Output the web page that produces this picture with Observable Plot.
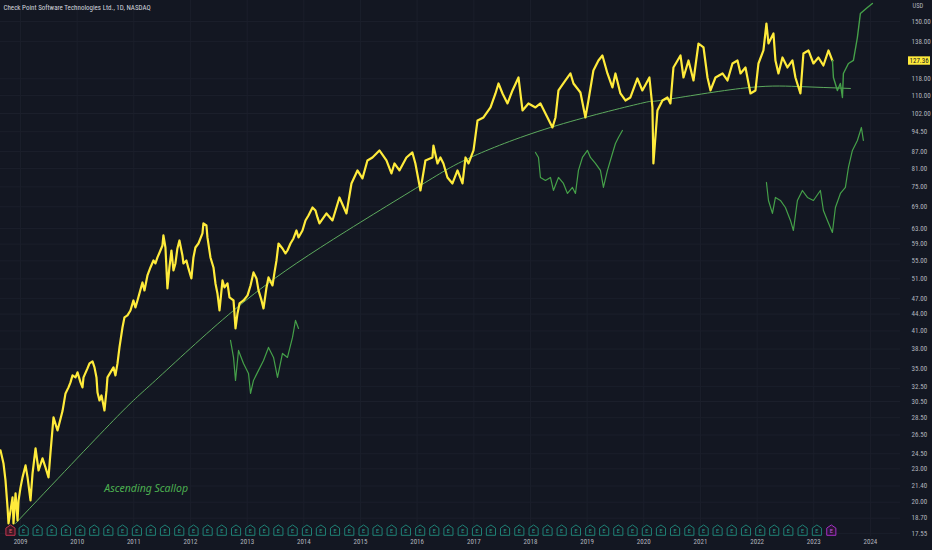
<!DOCTYPE html>
<html><head><meta charset="utf-8">
<script src="https://cdn.jsdelivr.net/npm/d3@7"></script>
<script src="https://cdn.jsdelivr.net/npm/@observablehq/plot@0.6"></script>
<style>
html,body{margin:0;padding:0;background:#131722;}
#chart{width:932px;height:550px;overflow:hidden;}
</style></head><body><div id="chart"></div>
<script>
const title = "Check Point Software Technologies Ltd., 1D, NASDAQ";
const currency = "USD";
const lastPrice = 127.36;
const annotation = "Ascending Scallop";
const annotationYear = 2010.48;
const annotationPrice = 21.2;

// Daily close (yellow): [decimal year, USD]
const priceCloses = [
[2008.647,24.85],[2008.700,23.52],[2008.735,21.91],[2008.771,19.56],[2008.788,18.30],[2008.859,20.40],[2008.876,18.30],[2008.912,20.75],[2008.947,18.53],[2008.965,20.15],
[2009.000,21.28],[2009.035,22.19],[2009.088,23.33],[2009.124,22.19],[2009.176,20.15],[2009.212,22.56],[2009.265,25.05],[2009.318,22.84],[2009.388,24.03],[2009.441,23.13],
[2009.494,22.19],[2009.529,24.64],[2009.582,28.53],[2009.653,27.01],[2009.741,29.30],[2009.794,31.55],[2009.847,32.36],[2009.882,33.04],[2009.918,34.03],[2009.971,33.74],
[2010.006,34.46],[2010.059,33.04],[2010.094,32.36],[2010.112,33.74],[2010.182,35.04],[2010.218,35.78],[2010.271,36.08],[2010.306,35.19],[2010.341,33.74],[2010.359,31.68],
[2010.394,30.63],[2010.429,31.28],[2010.465,30.00],[2010.482,29.38],[2010.518,31.95],[2010.535,33.74],[2010.588,34.46],[2010.641,35.19],[2010.676,34.03],[2010.712,35.78],
[2010.747,38.26],[2010.800,41.60],[2010.835,43.39],[2010.888,43.75],[2010.941,44.67],[2010.994,46.59],[2011.029,45.24],[2011.065,46.59],[2011.100,47.98],[2011.153,50.24],
[2011.188,48.59],[2011.241,51.74],[2011.294,53.50],[2011.347,55.09],[2011.382,54.40],[2011.418,55.79],[2011.470,57.44],[2011.506,58.66],[2011.523,61.18],[2011.559,58.17],
[2011.594,49.00],[2011.629,53.50],[2011.665,57.44],[2011.700,52.83],[2011.735,54.40],[2011.770,57.93],[2011.806,59.91],[2011.859,56.26],[2011.876,54.40],[2011.929,55.09],
[2011.965,53.28],[2012.017,51.09],[2012.053,55.79],[2012.088,58.17],[2012.141,59.15],[2012.212,61.69],[2012.229,64.33],[2012.282,63.79],[2012.300,60.67],[2012.353,55.79],
[2012.406,53.50],[2012.441,50.03],[2012.476,47.98],[2012.512,44.67],[2012.565,50.66],[2012.600,49.20],[2012.653,50.03],[2012.688,47.18],[2012.759,46.59],[2012.794,41.43],
[2012.829,44.12],[2012.865,46.00],[2012.935,46.59],[2013.006,47.58],[2013.059,49.61],[2013.111,52.39],[2013.164,51.09],[2013.200,48.59],[2013.253,46.59],[2013.288,45.05],
[2013.341,49.20],[2013.376,51.31],[2013.447,49.61],[2013.482,52.39],[2013.517,55.09],[2013.553,59.15],[2013.623,57.93],[2013.676,56.73],[2013.711,57.44],[2013.764,59.15],
[2013.817,60.41],[2013.870,62.47],[2013.906,60.67],[2013.976,62.47],[2014.029,65.15],[2014.082,66.53],[2014.153,68.79],[2014.206,67.93],[2014.241,65.97],[2014.276,64.33],
[2014.400,67.09],[2014.506,65.15],[2014.629,71.74],[2014.753,67.09],[2014.841,76.07],[2014.947,80.34],[2015.035,77.69],[2015.123,83.78],[2015.212,84.83],[2015.335,87.36],
[2015.459,83.78],[2015.547,79.33],[2015.600,82.73],[2015.688,80.34],[2015.812,84.83],[2015.917,86.63],[2015.970,82.73],[2016.059,73.87],[2016.147,83.78],[2016.270,84.83],
[2016.288,89.20],[2016.359,82.73],[2016.411,84.83],[2016.464,82.73],[2016.535,78.02],[2016.623,76.07],[2016.712,80.34],[2016.800,76.07],[2016.853,84.83],[2016.906,82.73],
[2016.994,87.36],[2017.065,99.07],[2017.170,100.32],[2017.294,104.61],[2017.382,110.93],[2017.435,115.68],[2017.506,110.93],[2017.594,106.38],[2017.682,112.34],[2017.788,118.62],
[2017.859,103.30],[2017.964,106.38],[2018.088,104.61],[2018.176,106.38],[2018.300,100.32],[2018.388,96.20],[2018.441,100.32],[2018.494,112.34],[2018.617,117.14],[2018.706,120.63],
[2018.759,115.68],[2018.882,111.39],[2018.970,100.32],[2019.023,107.72],[2019.111,122.16],[2019.200,127.39],[2019.270,130.08],[2019.359,120.63],[2019.447,113.76],[2019.500,120.63],
[2019.588,110.93],[2019.676,107.72],[2019.764,109.09],[2019.888,118.13],[2019.976,112.34],[2020.100,118.62],[2020.153,104.61],[2020.170,82.73],[2020.241,103.30],[2020.329,107.72],
[2020.417,109.09],[2020.470,106.38],[2020.523,123.70],[2020.647,130.08],[2020.700,118.62],[2020.788,127.39],[2020.876,117.14],[2020.964,136.79],[2021.053,134.52],[2021.123,118.62],
[2021.176,112.34],[2021.264,118.62],[2021.388,120.63],[2021.476,117.14],[2021.564,125.79],[2021.653,127.39],[2021.706,120.63],[2021.794,123.70],[2021.882,110.93],[2021.970,112.34],
[2022.023,125.79],[2022.111,132.84],[2022.164,148.75],[2022.200,136.79],[2022.288,142.64],[2022.323,127.39],[2022.376,120.63],[2022.447,129.00],[2022.535,123.70],[2022.623,127.39],
[2022.676,118.62],[2022.764,110.93],[2022.817,131.18],[2022.906,132.84],[2022.994,125.79],[2023.082,129.00],[2023.170,124.74],[2023.259,132.84],[2023.329,127.36]
];

// Projected bar pattern after the last close (green)
const projYears = [2023.329,2023.347,2023.417,2023.470,2023.506,2023.523,2023.612,2023.700,2023.770,2023.823,2023.947,2024.035];
const projValues = [127.36,118.62,112.34,115.68,109.09,120.63,125.79,127.39,140.27,155.11,159.06,161.75];

// Scallop arc
const arcYears = [2008.912,2010.641,2011.382,2012.759,2014.294,2016.059,2016.941,2018.353,2019.941,2020.294,2021.706,2022.711,2023.647];
const arcValues = [18.30,28.18,33.32,44.67,58.17,75.44,84.83,96.20,106.38,107.72,113.28,114.23,113.28];

// Bar-pattern copies (green)
const pattern1Years = [2012.706,2012.759,2012.794,2012.847,2012.935,2013.023,2013.059,2013.111,2013.200,2013.288,2013.376,2013.465,2013.535,2013.623,2013.711,2013.800,2013.853,2013.906];
const pattern1Values = [39.40,36.69,33.32,37.78,35.78,34.31,31.55,33.32,34.75,36.23,38.26,36.69,33.74,37.31,36.69,39.90,42.84,41.43];
const pattern2Years = [2018.088,2018.141,2018.176,2018.264,2018.353,2018.405,2018.494,2018.582,2018.653,2018.741,2018.794,2018.847,2018.917,2019.006,2019.059,2019.147,2019.235,2019.288,2019.359,2019.447,2019.500,2019.553,2019.623];
const pattern2Values = [86.63,84.83,78.02,77.04,78.02,73.87,78.02,76.07,72.95,74.81,72.95,80.34,84.83,87.36,84.83,82.73,80.34,74.81,80.34,86.27,89.95,92.26,95.00];
const pattern3Years = [2022.164,2022.200,2022.270,2022.323,2022.411,2022.499,2022.588,2022.640,2022.711,2022.799,2022.888,2022.994,2023.117,2023.170,2023.241,2023.329,2023.382,2023.470,2023.558,2023.612,2023.682,2023.770,2023.841,2023.876];
const pattern3Values = [76.39,70.84,67.09,71.74,70.84,68.79,65.15,62.47,70.84,73.87,71.74,70.84,73.87,67.93,65.15,61.95,68.79,72.95,74.81,81.35,87.36,91.10,96.20,91.10];

// Earnings events
const missedEarnings = ["2008-10-28"];
const earningsDates = ["2009-01-21","2009-04-21","2009-07-21","2009-10-21","2010-01-21","2010-04-21","2010-07-21","2010-10-21","2011-01-21","2011-04-21","2011-07-21","2011-10-21","2012-01-21","2012-04-21","2012-07-21","2012-10-21","2013-01-21","2013-04-21","2013-07-21","2013-10-21","2014-01-21","2014-04-21","2014-07-21","2014-10-21","2015-01-21","2015-04-21","2015-07-21","2015-10-21","2016-01-21","2016-04-21","2016-07-21","2016-10-21","2017-01-21","2017-04-21","2017-07-21","2017-10-21","2018-01-21","2018-04-21","2018-07-21","2018-10-21","2019-01-21","2019-04-21","2019-07-21","2019-10-21","2020-01-21","2020-04-21","2020-07-21","2020-10-21","2021-01-21","2021-04-21","2021-07-21","2021-10-21","2022-01-21","2022-04-21","2022-07-21","2022-10-21","2023-01-21"];
const upcomingEarnings = ["2023-04-24"];

const yTicks = [150,138,118,110,102,94.5,87,81,75,69,63,59,55,51,47,44,41,38,35,32.5,30.5,28.5,26.5,24.5,23,21.4,20,18.7,17.55];
const yearTicks = [2009,2010,2011,2012,2013,2014,2015,2016,2017,2018,2019,2020,2021,2022,2023,2024];
const xDomainYears = [2008.647, 2024.53];
const yDomain = [17.32, 163.8];

const FONT = "'Liberation Sans Narrow','Roboto Condensed',Roboto,'Liberation Sans',sans-serif";

function toDate(y) {
  const yr = Math.floor(y);
  const a = Date.UTC(yr, 0, 1), b = Date.UTC(yr + 1, 0, 1);
  return new Date(a + (y - yr) * (b - a));
}
const series = (ys, vs) => ys.map((y, i) => ({date: toDate(y), value: vs[i]}));
const price = priceCloses.map(([y, v]) => ({date: toDate(y), value: v}));
const proj = series(projYears, projValues);
const arc = series(arcYears, arcValues);
const p1 = series(pattern1Years, pattern1Values);
const p2 = series(pattern2Years, pattern2Values);
const p3 = series(pattern3Years, pattern3Values);
const parse = d3.utcParse("%Y-%m-%d");
const ev = a => a.map(s => ({date: parse(s)}));

const house = {draw(ctx, size) {
  const r = Math.sqrt(size / Math.PI), w = r * 0.95;
  ctx.moveTo(-w, -r * 0.5); ctx.lineTo(0, -r * 1.15); ctx.lineTo(w, -r * 0.5);
  ctx.lineTo(w, r); ctx.lineTo(-w, r); ctx.closePath();
}};
const boxSym = {draw(ctx) { ctx.rect(-11, -4.2, 22, 8.4); }};

function earningsMarks(data, stroke, fill, textFill) {
  return [
    Plot.dot(data, {x: "date", frameAnchor: "bottom", dy: -6, symbol: house, r: 4.8, stroke, fill, strokeWidth: 1}),
    Plot.text(data, {x: "date", frameAnchor: "bottom", dy: -5.6, text: () => "E", fontSize: 5.5, fill: textFill, lineAnchor: "middle", fontFamily: "Roboto, sans-serif"})
  ];
}

const chart = Plot.plot({
  width: 932, height: 550,
  marginLeft: 0, marginRight: 32, marginTop: 0, marginBottom: 14,
  style: {background: "#131722", color: "#b2b5be", fontFamily: FONT, fontSize: "7px", overflow: "visible"},
  x: {type: "utc", domain: xDomainYears.map(toDate), axis: null},
  y: {type: "log", domain: yDomain, axis: null},
  marks: [
    Plot.ruleX(yearTicks.map(toDate), {stroke: "#1b1f2b", strokeWidth: 1}),
    Plot.ruleY(yTicks, {stroke: "#1b1f2b", strokeWidth: 1}),
    Plot.axisX({ticks: yearTicks.map(toDate), tickFormat: d3.utcFormat("%Y"), tickSize: 0, tickPadding: 3, label: null, fill: "#b2b5be", fontSize: 7}),
    Plot.axisY({anchor: "right", ticks: yTicks, tickFormat: d => d.toFixed(2), tickSize: 0, tickPadding: 11, label: null, fill: "#b2b5be", fontSize: 7}),
    Plot.line(arc, {x: "date", y: "value", curve: "natural", stroke: "#5daa5e", strokeWidth: 1}),
    Plot.line(p1, {x: "date", y: "value", stroke: "#45a049", strokeWidth: 1.2}),
    Plot.line(p2, {x: "date", y: "value", stroke: "#45a049", strokeWidth: 1.2}),
    Plot.line(p3, {x: "date", y: "value", stroke: "#45a049", strokeWidth: 1.2}),
    Plot.line(price, {x: "date", y: "value", stroke: "#ffeb3b", strokeWidth: 2.2, strokeLinejoin: "round"}),
    Plot.line(proj, {x: "date", y: "value", stroke: "#45a049", strokeWidth: 1.4}),
    ...earningsMarks(ev(earningsDates), "#1f8276", "#131722", "#2a9a8b"),
    ...earningsMarks(ev(missedEarnings), "#c2344f", "#3b1824", "#e05a70"),
    ...earningsMarks(ev(upcomingEarnings), "#a531c8", "#2a1533", "#c35ae0"),
    Plot.text([{date: toDate(annotationYear), value: annotationPrice, label: annotation}], {x: "date", y: "value", text: "label", textAnchor: "start", fontStyle: "italic", fontSize: 10.5, fill: "#4caf50", fontFamily: "'Noto Sans',sans-serif"}),
    Plot.text([title], {frameAnchor: "top-left", dx: 3, dy: 5, text: d => d, textAnchor: "start", lineAnchor: "top", fill: "#d1d4dc", fontSize: 7}),
    Plot.text([currency], {frameAnchor: "top-right", dx: 12, dy: 3, text: d => d, textAnchor: "start", lineAnchor: "top", fill: "#b2b5be", fontSize: 6.5}),
    Plot.dot([lastPrice], {y: d => d, frameAnchor: "right", dx: 18.5, symbol: boxSym, r: 1, fill: "#ffeb3b", stroke: "none"}),
    Plot.text([lastPrice], {y: d => d, frameAnchor: "right", dx: 9, text: d => d.toFixed(2), textAnchor: "start", lineAnchor: "middle", fill: "#131722", fontSize: 7})
  ]
});
document.getElementById("chart").appendChild(chart);
</script>
</body></html>
